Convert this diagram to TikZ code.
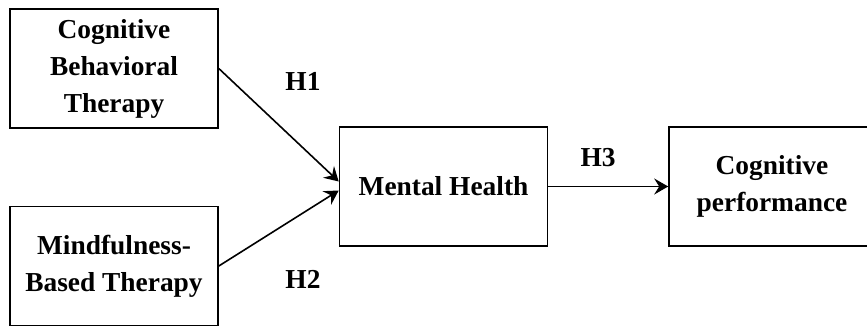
\documentclass[tikz,border=0pt]{standalone}
\usepackage{fontspec}
\setmainfont{Liberation Serif}
\usetikzlibrary{arrows.meta,positioning}

\tikzset{
  box/.style={draw, line width=0.8pt, minimum width=104pt, minimum height=59.5pt,
    align=center, inner sep=0pt, font=\fontsize{13.7}{18.5}\selectfont\bfseries},
  hyp/.style={font=\fontsize{13.7}{16}\selectfont\bfseries, inner sep=0pt},
  arr/.style={-{Stealth[length=7pt,width=8pt,inset=2.5pt]}, line width=0.8pt}
}

\begin{document}
\begin{tikzpicture}[x=0.5pt, y=-0.5pt]
        \clip (0,0) rectangle (867,327);

        \node[box] at (114, 68.5)(cbt){Cognitive\\Behavioral\\Therapy};
        \node[box] at (114, 266)(mbt){Mindfulness-\\Based Therapy};
        \node[box] at (443.5, 186.5)(mh){Mental Health};
        \node[box, minimum width=110pt] at (779, 186.5)(cp){\hspace*{-7pt}Cognitive\\\hspace*{-7pt}performance};

        \node[hyp] at (303, 81)(h1){H1};
        \node[hyp] at (303, 279)(h2){H2};
        \node[hyp] at (598, 158)(h3){H3};

        \path[arr]
        (cbt.east)edge([yshift=2.5pt]mh.west)
        (mbt.east)edge([yshift=-2pt]mh.west)
        (mh)edge(cp)
        ;
    \end{tikzpicture}
\end{document}
